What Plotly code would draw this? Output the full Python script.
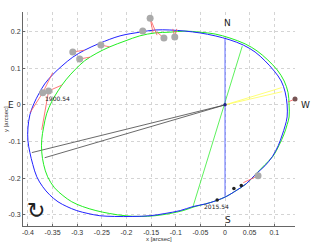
import plotly.graph_objects as go

# Apparent orbit (blue) points
blue_x = [0.126, 0.122, 0.114, 0.100, 0.081, 0.061, 0.037, 0.010, -0.020, -0.051, -0.081, -0.112,
          -0.142, -0.173, -0.213, -0.254, -0.285, -0.309, -0.331, -0.350, -0.366, -0.378, -0.388,
          -0.396, -0.400, -0.400, -0.396, -0.390, -0.382, -0.370, -0.356, -0.339, -0.321, -0.301,
          -0.278, -0.254, -0.224, -0.187, -0.152, -0.122, -0.091, -0.065, -0.040, -0.018, 0.002,
          0.022, 0.043, 0.063, 0.081, 0.096, 0.108, 0.116, 0.122, 0.126, 0.126]
blue_y = [0.000, 0.035, 0.065, 0.092, 0.120, 0.144, 0.163, 0.177, 0.188, 0.196, 0.201, 0.204,
          0.204, 0.198, 0.188, 0.168, 0.149, 0.130, 0.106, 0.082, 0.057, 0.030, 0.003,
          -0.027, -0.063, -0.098, -0.130, -0.163, -0.196, -0.223, -0.245, -0.264, -0.277, -0.288,
          -0.296, -0.302, -0.304, -0.304, -0.302, -0.296, -0.288, -0.277, -0.270, -0.261, -0.250,
          -0.234, -0.215, -0.188, -0.166, -0.141, -0.111, -0.082, -0.057, -0.033, 0.000]

# Second orbit (green)
green_x = [0.130, 0.128, 0.120, 0.106, 0.087, 0.065, 0.041, 0.010, -0.020, -0.051, -0.081, -0.112,
           -0.142, -0.173, -0.203, -0.234, -0.260, -0.285, -0.305, -0.323, -0.339, -0.352, -0.362,
           -0.368, -0.372, -0.372, -0.368, -0.360, -0.346, -0.329, -0.311, -0.289, -0.262, -0.234,
           -0.203, -0.173, -0.142, -0.112, -0.085, -0.061, -0.040, -0.018, 0.002, 0.022, 0.043,
           0.063, 0.081, 0.098, 0.110, 0.120, 0.126, 0.130, 0.130]
green_y = [0.000, 0.033, 0.065, 0.095, 0.122, 0.147, 0.166, 0.182, 0.193, 0.198, 0.201, 0.198,
           0.196, 0.188, 0.174, 0.158, 0.141, 0.120, 0.095, 0.068, 0.038, 0.008, -0.024,
           -0.060, -0.095, -0.128, -0.163, -0.196, -0.226, -0.247, -0.264, -0.277, -0.288, -0.296,
           -0.302, -0.304, -0.302, -0.296, -0.288, -0.277, -0.270, -0.261, -0.250, -0.234, -0.215,
           -0.188, -0.163, -0.139, -0.109, -0.079, -0.054, -0.033, 0.000]

# Observations
obs_x = [-0.370, -0.358, -0.309, -0.295, -0.252, -0.167, -0.152, -0.124, -0.102, 0.067]
obs_y = [0.033, 0.038, 0.144, 0.125, 0.163, 0.201, 0.236, 0.182, 0.185, -0.193]
last_obs_x = [0.142]
last_obs_y = [0.016]

# O-C residual segments: observation index -> predicted position
seg_idx = [0, 0, 1, 1, 2, 3, 4, 6, 6, 7, 8, 8, 9]
pred_x = [-0.350, -0.396, -0.331, -0.372, -0.285, -0.274, -0.234, -0.146, -0.138, -0.138, -0.106, -0.098, 0.037]
pred_y = [0.087, -0.022, 0.054, -0.068, 0.149, 0.130, 0.158, 0.196, 0.190, 0.198, 0.207, 0.207, -0.212]
last_pred = (0.128, 0.008)

# Ephemeris dots
eph_x = [0.033, 0.018, -0.016]
eph_y = [-0.220, -0.228, -0.259]

# Lines from primary
node_x = [0.0, 0.0]
node_y = [0.179, -0.249]
apsid_x = [0.035, -0.065]
apsid_y = [0.160, -0.277]
yellow_ends = [(0.115, 0.047), (0.116, 0.036)]
black_ends = [(-0.392, -0.130), (-0.366, -0.144)]

xticks = [-0.4, -0.35, -0.3, -0.25, -0.2, -0.15, -0.1, -0.05, 0, 0.05, 0.1]
yticks = [-0.3, -0.2, -0.1, 0, 0.1, 0.2]

fig = go.Figure()

def seg(ends):
    xs, ys = [], []
    for ex, ey in ends:
        xs += [0, ex, None]
        ys += [0, ey, None]
    return xs, ys

bx, by = seg(black_ends)
fig.add_trace(go.Scatter(x=bx, y=by, mode="lines", line=dict(color="#444444", width=0.8)))
yx, yy = seg(yellow_ends)
fig.add_trace(go.Scatter(x=yx, y=yy, mode="lines", line=dict(color="#ffff55", width=0.8)))
fig.add_trace(go.Scatter(x=apsid_x, y=apsid_y, mode="lines", line=dict(color="#33ee33", width=0.8)))
fig.add_trace(go.Scatter(x=node_x, y=node_y, mode="lines", line=dict(color="#3344ff", width=0.8)))

fig.add_trace(go.Scatter(x=green_x, y=green_y, mode="lines",
                         line=dict(color="#22ee22", width=1, shape="spline", smoothing=1)))
fig.add_trace(go.Scatter(x=blue_x, y=blue_y, mode="lines",
                         line=dict(color="#2222ff", width=1, shape="spline", smoothing=1)))

rx, ry = [], []
for i, px, py in zip(seg_idx, pred_x, pred_y):
    rx += [obs_x[i], px, None]
    ry += [obs_y[i], py, None]
rx += [last_obs_x[0], last_pred[0], None]
ry += [last_obs_y[0], last_pred[1], None]
fig.add_trace(go.Scatter(x=rx, y=ry, mode="lines", line=dict(color="#ff5555", width=0.8),
                         cliponaxis=False))

fig.add_trace(go.Scatter(x=obs_x, y=obs_y, mode="markers",
                         marker=dict(color="#aaaaaa", size=7, line=dict(width=0))))
fig.add_trace(go.Scatter(x=last_obs_x, y=last_obs_y, mode="markers", cliponaxis=False,
                         marker=dict(color="#775555", size=5, line=dict(width=0))))
fig.add_trace(go.Scatter(x=eph_x, y=eph_y, mode="markers",
                         marker=dict(color="#222222", size=3.5, line=dict(width=0))))
fig.add_trace(go.Scatter(x=[0], y=[0], mode="markers",
                         marker=dict(color="#222288", size=3.5, line=dict(width=0))))

ann = [
    dict(x=0.006, y=0.222, text="N", size=9),
    dict(x=0.006, y=-0.313, text="S", size=9),
    dict(x=-0.339, y=0.016, text="1900.54", size=6),
    dict(x=-0.018, y=-0.277, text="2015.54", size=6),
    dict(x=-0.384, y=-0.287, text="↻", size=22),
]
for a in ann:
    fig.add_annotation(x=a["x"], y=a["y"], text=a["text"], showarrow=False,
                       font=dict(family="DejaVu Sans, sans-serif", size=a["size"], color="#222222"),
                       xanchor="center", yanchor="middle")

# compass labels outside the x range (paper x, data y)
for px_, txt in [(1.04, "W"), (-0.044, "E")]:
    fig.add_annotation(x=px_, y=0.0, xref="paper", yref="y", text=txt, showarrow=False,
                       font=dict(family="DejaVu Sans, sans-serif", size=9, color="#222222"),
                       xanchor="center", yanchor="middle")

# axis titles
fig.add_annotation(x=0.5, y=0, xref="paper", yref="paper", yshift=-13, text="x [arcsec]",
                   showarrow=False, font=dict(family="Liberation Sans, Arial, sans-serif", size=6, color="#333333"),
                   xanchor="center", yanchor="middle")
fig.add_annotation(x=0, y=0.5, xref="paper", yref="paper", xshift=-17, text="y [arcsec]", textangle=-90,
                   showarrow=False, font=dict(family="Liberation Sans, Arial, sans-serif", size=6, color="#333333"),
                   xanchor="center", yanchor="middle")

fig.update_layout(
    width=311, height=243,
    margin=dict(l=23, r=16, t=12, b=17, autoexpand=False),
    paper_bgcolor="white", plot_bgcolor="white",
    showlegend=False, hovermode=False,
    font=dict(family="Liberation Sans, Arial, sans-serif", size=7, color="#333333"),
)
common = dict(showgrid=True, gridcolor="#d4d4d4", griddash="dot", gridwidth=1,
              showline=True, linecolor="#666666", linewidth=1, zeroline=False,
              ticks="inside", ticklen=2, tickcolor="#666666", automargin=False,
              tickfont=dict(size=7))
fig.update_xaxes(range=[-0.41, 0.142], tickvals=xticks, ticktext=[f"{v:g}" for v in xticks], **common)
fig.update_yaxes(range=[-0.33, 0.253], tickvals=yticks, ticktext=[f"{v:g}" for v in yticks], **common)

fig.write_html("out.html", config={"displayModeBar": False},
               post_script="document.body.style.margin='0';")
